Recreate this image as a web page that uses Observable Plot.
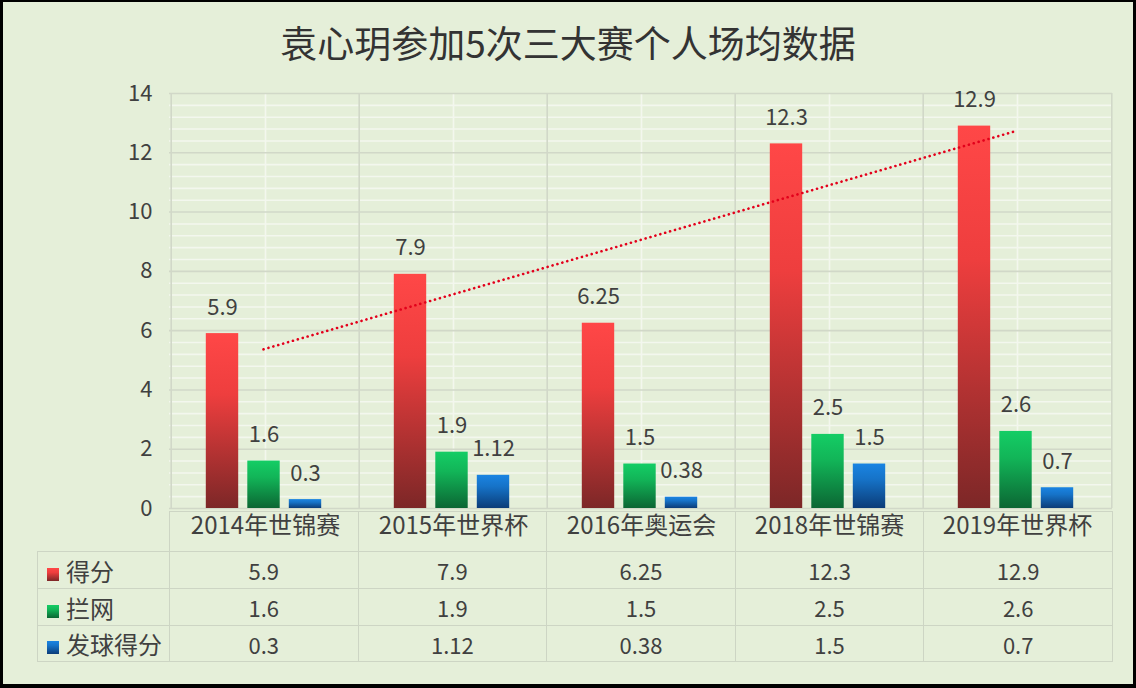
<!DOCTYPE html>
<html><head><meta charset="utf-8">
<script src="https://cdn.jsdelivr.net/npm/d3@7"></script>
<script src="https://cdn.jsdelivr.net/npm/@observablehq/plot@0.6"></script>
<style>
body{margin:0;background:#fff;}
#wrap{position:relative;width:1136px;height:688px;background:#e5efd9;font-family:"Noto Sans CJK SC","Noto Sans",sans-serif;color:#404040;overflow:hidden}
#frame{position:absolute;left:0;top:0;width:1136px;height:688px;box-sizing:border-box;border-style:solid;border-color:#000;border-width:2px 3px 4px 3px;pointer-events:none}
#title{position:absolute;left:0;top:18px;width:1136px;text-align:center;font-size:37px;line-height:48px;color:#333}
#chart{position:absolute;left:0;top:70px}
#tbl{position:absolute;left:37px;top:511px;border-collapse:collapse;table-layout:fixed;font-size:22px;color:#404040}
#tbl td{border:1.5px solid #cdd5c4;padding:0;text-align:center;white-space:nowrap}
#tbl td.lab{text-align:left;padding-left:9px;font-size:24px}
.key{display:inline-block;width:12px;height:13px;margin-right:7px;vertical-align:0px}
</style></head>
<body>
<div id="wrap">
  <div id="title"></div>
  <div id="chart"></div>
  <table id="tbl"></table>
  <div id="frame"></div>
</div>
<script>
const titleText = "袁心玥参加5次三大赛个人场均数据";
const categories = ["2014年世锦赛","2015年世界杯","2016年奥运会","2018年世锦赛","2019年世界杯"];
const seriesNames = ["得分","拦网","发球得分"];
const score = [5.9, 7.9, 6.25, 12.3, 12.9];
const block = [1.6, 1.9, 1.5, 2.5, 2.6];
const serve = [0.3, 1.12, 0.38, 1.5, 0.7];
const yTicks = [0, 2, 4, 6, 8, 10, 12, 14];

const seriesValues = [score, block, serve];
const gradients = [
  {id: "gRed",   stops: [["0%", "#ff4747"], ["35%", "#ee3e3e"], ["100%", "#7c2727"]]},
  {id: "gGreen", stops: [["0%", "#14cd65"], ["35%", "#12b558"], ["100%", "#0b6633"]]},
  {id: "gBlue",  stops: [["0%", "#1a84e2"], ["35%", "#1673c8"], ["100%", "#0b3c78"]]}
];

document.getElementById("title").textContent = titleText;

// linear trend of score (computed from data)
const xs = score.map((_, i) => i + 1);
const mx = d3.mean(xs), my = d3.mean(score);
const slope = d3.sum(xs, (x, i) => (x - mx) * (score[i] - my)) / d3.sum(xs, x => (x - mx) ** 2);
const trend = categories.map((c, i) => ({c, v: my + slope * (xs[i] - mx)}));

const W = 1136, H = 481;
const mL = 169, mR = 24, mT = 23, mB = 43;
const bw = (W - mL - mR) / categories.length;
const barW = 33, step = 41.5;

const minorY = d3.range(0, 36).map(i => +(i * 0.4).toFixed(1)).filter((v, i) => i % 5 !== 0 && v < 14);

const defsMark = () => {
  const defs = d3.create("svg:defs");
  for (const g of gradients) {
    const lg = defs.append("linearGradient").attr("id", g.id).attr("x1", 0).attr("y1", 0).attr("x2", 0).attr("y2", 1);
    for (const [o, c] of g.stops) lg.append("stop").attr("offset", o).attr("stop-color", c);
  }
  return defs.node();
};

const marks = [
  defsMark,
  Plot.ruleY(minorY, {stroke: "#f3f7ee", strokeWidth: 1.6}),
  Plot.ruleX(categories, {stroke: "#f3f7ee", strokeWidth: 1.6}),
  Plot.ruleY(yTicks, {stroke: "#d1d8c8", strokeWidth: 1.6}),
  Plot.ruleX(categories, {stroke: "#d1d8c8", strokeWidth: 1.6, dx: -bw / 2}),
  Plot.ruleX(categories.slice(-1), {stroke: "#d1d8c8", strokeWidth: 1.6, dx: bw / 2}),
];

seriesValues.forEach((vals, s) => {
  const off = (s - 1) * step;
  const insetLeft = bw / 2 + off - barW / 2 - 1.5;
  const insetRight = bw - insetLeft - barW;
  const data = categories.map((c, i) => ({c, v: vals[i]}));
  marks.push(Plot.barY(data, {x: "c", y: "v", fill: `url(#${gradients[s].id})`, insetLeft, insetRight}));
});

marks.push(Plot.line(trend, {x: "c", y: "v", dx: -2, stroke: "#e3001b", strokeWidth: 2.6, strokeDasharray: "0.1,5", strokeLinecap: "round"}));

seriesValues.forEach((vals, s) => {
  const off = (s - 1) * step - 1.5;
  const data = categories.map((c, i) => ({c, v: vals[i]}));
  marks.push(Plot.text(data, {x: "c", y: "v", text: d => String(d.v), dx: off, dy: -26, fontSize: 22, fill: "#404040"}));
});

marks.push(Plot.axisY({ticks: yTicks, tickSize: 0, tickPadding: 17, fontSize: 22, fill: "#404040"}));
marks.push(Plot.axisX({tickSize: 0, tickPadding: 8, fontSize: 24, fill: "#404040"}));

const chart = Plot.plot({
  width: W, height: H,
  marginLeft: mL, marginRight: mR, marginTop: mT, marginBottom: mB,
  style: {background: "transparent", fontFamily: "'Noto Sans CJK SC','Noto Sans',sans-serif", fontSize: "22px", color: "#404040"},
  x: {domain: categories, padding: 0, label: null},
  y: {domain: [0, 14], label: null},
  marks
});
document.getElementById("chart").appendChild(chart);

// data table
const tbl = d3.select("#tbl");
const colW = [132].concat(categories.map(() => bw));
tbl.append("colgroup").selectAll("col").data(colW).join("col").style("width", d => d + "px");
const head = tbl.append("tr").style("height", "40px");
head.append("td").style("border-top", "none").style("border-left", "none");
categories.forEach(() => head.append("td"));
const keyGrad = gradients.map(g => `linear-gradient(to bottom, ${g.stops.map(([o, c]) => c + " " + o).join(", ")})`);
const rowH = [37, 37, 36];
seriesNames.forEach((name, s) => {
  const tr = tbl.append("tr").style("height", rowH[s] + "px");
  const lab = tr.append("td").attr("class", "lab");
  lab.append("span").attr("class", "key").style("background", keyGrad[s]);
  lab.append("span").text(name);
  seriesValues[s].forEach(v => tr.append("td").text(String(v)));
});
</script>
</body></html>
